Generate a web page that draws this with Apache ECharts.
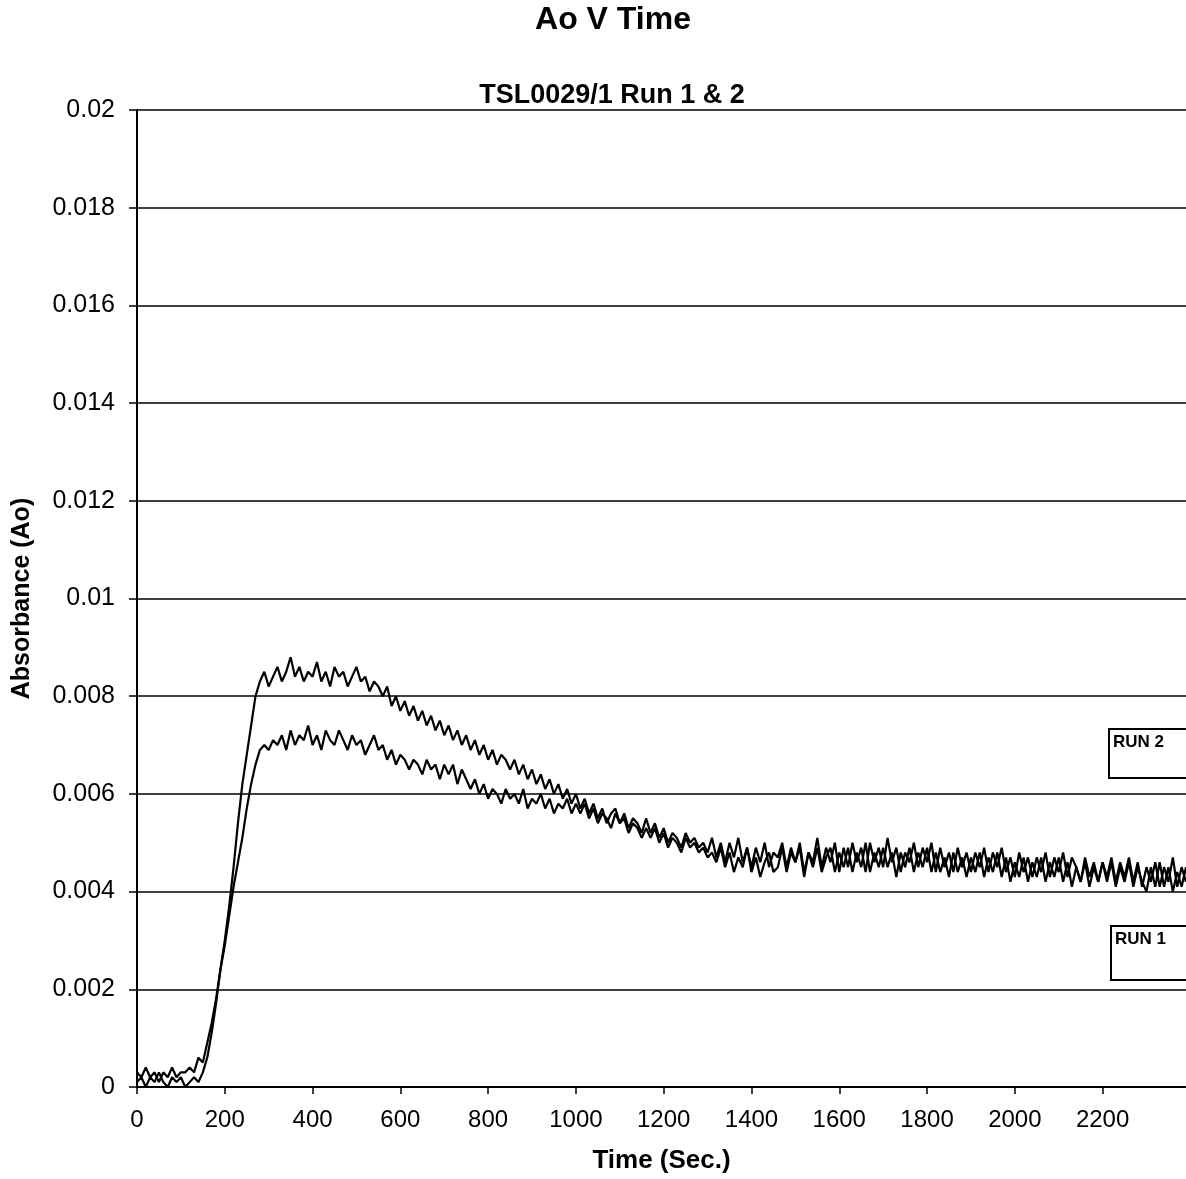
<!DOCTYPE html>
<html>
<head>
<meta charset="utf-8">
<title>Ao V Time</title>
<script src="https://cdn.jsdelivr.net/npm/echarts@6/dist/echarts.min.js"></script>
<style>
html, body { margin: 0; padding: 0; background: #fff; }
#chart { width: 1186px; height: 1179px; }
</style>
</head>
<body>
<div id="chart"></div>
<script>
// sample times (sec.)
var times = [
    0,10,20,30,40,50,60,70,80,90,100,110,120,130,140,150,160,170,180,190,
    200,210,220,230,240,250,260,270,280,290,300,310,320,330,340,350,360,370,380,390,
    400,410,420,430,440,450,460,470,480,490,500,510,520,530,540,550,560,570,580,590,
    600,610,620,630,640,650,660,670,680,690,700,710,720,730,740,750,760,770,780,790,
    800,810,820,830,840,850,860,870,880,890,900,910,920,930,940,950,960,970,980,990,
    1000,1010,1020,1030,1040,1050,1060,1070,1080,1090,1100,1110,1120,1130,1140,1150,1160,1170,1180,1190,
    1200,1210,1220,1230,1240,1250,1260,1270,1280,1290,1300,1310,1320,1330,1340,1350,1360,1370,1380,1390,
    1400,1410,1420,1430,1440,1450,1460,1470,1480,1490,1500,1510,1520,1530,1540,1550,1560,1570,1580,1590,
    1600,1610,1620,1630,1640,1650,1660,1670,1680,1690,1700,1710,1720,1730,1740,1750,1760,1770,1780,1790,
    1800,1810,1820,1830,1840,1850,1860,1870,1880,1890,1900,1910,1920,1930,1940,1950,1960,1970,1980,1990,
    2000,2010,2020,2030,2040,2050,2060,2070,2080,2090,2100,2110,2120,2130,2140,2150,2160,2170,2180,2190,
    2200,2210,2220,2230,2240,2250,2260,2270,2280,2290,2300,2310,2320,2330,2340,2350,2360,2370,2380,2390
];

// Run 2 absorbance (upper curve)
var run2 = [
    0.0003,0.0002,0.0004,0.0002,0.0003,0.0001,0.0003,0.0002,0.0004,0.0002,0.0003,0.0003,
    0.0004,0.0003,0.0006,0.0005,0.0009,0.0013,0.0018,0.0024,0.0030,0.0037,0.0045,0.0054,0.0062,0.0068,0.0074,0.0080,
    0.0083,0.0085,0.0082,0.0084,0.0086,0.0083,0.0085,0.0088,0.0084,0.0086,0.0083,0.0085,0.0084,0.0087,
    0.0083,0.0085,0.0082,0.0086,0.0084,0.0085,0.0082,0.0084,0.0086,0.0083,0.0084,0.0081,0.0083,0.0082,
    0.0080,0.0082,0.0078,0.0080,0.0077,0.0079,0.0076,0.0078,0.0075,0.0077,0.0074,0.0076,0.0073,0.0075,0.0072,
    0.0074,0.0071,0.0073,0.0070,0.0072,0.0069,0.0071,0.0068,0.0070,0.0067,0.0069,0.0066,0.0068,0.0067,0.0065,
    0.0067,0.0064,0.0066,0.0063,0.0065,0.0062,0.0064,0.0061,0.0063,0.0060,0.0062,0.0059,0.0061,0.0058,0.0060,
    0.0057,0.0059,0.0056,0.0058,0.0055,0.0057,0.0054,0.0056,0.0057,0.0054,0.0056,0.0053,0.0055,0.0054,0.0052,
    0.0055,0.0052,0.0054,0.0051,0.0053,0.0050,0.0052,0.0051,0.0049,0.0052,0.0050,0.0051,0.0049,0.0050,0.0048,
    0.0051,0.0047,0.0050,0.0046,0.0050,0.0047,0.0051,0.0046,0.0049,0.0045,0.0049,0.0046,0.0050,0.0045,0.0048,
    0.0047,0.0050,0.0045,0.0049,0.0046,0.0050,0.0044,0.0048,0.0046,0.0051,0.0045,0.0049,0.0046,0.0050,0.0044,
    0.0049,0.0045,0.0050,0.0046,0.0049,0.0044,0.0050,0.0046,0.0049,0.0045,0.0051,0.0046,0.0049,0.0044,0.0048,
    0.0046,0.0050,0.0045,0.0049,0.0046,0.0050,0.0044,0.0049,0.0045,0.0048,0.0044,0.0049,0.0045,0.0048,0.0044,
    0.0048,0.0045,0.0049,0.0044,0.0048,0.0045,0.0049,0.0044,0.0047,0.0043,0.0048,0.0044,0.0047,0.0043,0.0047,
    0.0044,0.0048,0.0043,0.0047,0.0044,0.0048,0.0043,0.0047,0.0045,0.0042,0.0047,0.0043,0.0046,0.0042,0.0046,
    0.0043,0.0047,0.0042,0.0046,0.0043,0.0047,0.0042,0.0046,0.0041,0.0045,0.0042,0.0046,0.0041,0.0045,0.0042,0.0047,0.0041,0.0045,0.0042
];

// Run 1 absorbance (lower curve)
var run1 = [
    0.0001,0.0002,0.0000,0.0002,0.0001,0.0003,0.0001,0.0000,0.0002,0.0001,0.0002,0.0000,
    0.0001,0.0002,0.0001,0.0003,0.0006,0.0011,0.0017,0.0024,0.0029,0.0035,0.0041,0.0046,0.0051,0.0057,0.0062,0.0066,
    0.0069,0.0070,0.0069,0.0071,0.0070,0.0072,0.0069,0.0073,0.0070,0.0072,0.0071,0.0074,0.0070,0.0072,
    0.0069,0.0073,0.0071,0.0070,0.0073,0.0071,0.0069,0.0072,0.0070,0.0071,0.0068,0.0070,0.0072,0.0069,
    0.0070,0.0067,0.0069,0.0066,0.0068,0.0067,0.0065,0.0067,0.0066,0.0064,0.0067,0.0065,0.0066,0.0063,0.0066,
    0.0064,0.0066,0.0062,0.0065,0.0063,0.0061,0.0063,0.0060,0.0062,0.0059,0.0061,0.0060,0.0058,0.0061,0.0059,
    0.0060,0.0058,0.0061,0.0057,0.0059,0.0058,0.0060,0.0057,0.0059,0.0056,0.0058,0.0057,0.0059,0.0056,0.0058,
    0.0056,0.0058,0.0055,0.0057,0.0054,0.0056,0.0055,0.0053,0.0056,0.0054,0.0055,0.0052,0.0054,0.0053,0.0051,
    0.0053,0.0051,0.0053,0.0050,0.0052,0.0049,0.0051,0.0050,0.0048,0.0051,0.0049,0.0050,0.0048,0.0049,0.0047,
    0.0048,0.0046,0.0049,0.0045,0.0048,0.0044,0.0047,0.0045,0.0049,0.0044,0.0047,0.0043,0.0046,0.0048,0.0044,
    0.0045,0.0049,0.0044,0.0048,0.0046,0.0049,0.0043,0.0048,0.0045,0.0049,0.0044,0.0047,0.0049,0.0044,0.0048,
    0.0045,0.0049,0.0044,0.0048,0.0045,0.0050,0.0044,0.0048,0.0045,0.0049,0.0045,0.0048,0.0043,0.0048,0.0045,
    0.0049,0.0044,0.0048,0.0045,0.0049,0.0044,0.0048,0.0044,0.0047,0.0043,0.0048,0.0044,0.0047,0.0043,0.0047,
    0.0044,0.0048,0.0043,0.0047,0.0044,0.0048,0.0043,0.0047,0.0042,0.0046,0.0043,0.0047,0.0042,0.0046,0.0043,
    0.0047,0.0042,0.0046,0.0043,0.0047,0.0042,0.0046,0.0041,0.0045,0.0042,0.0046,0.0041,0.0045,0.0042,0.0046,
    0.0042,0.0046,0.0041,0.0045,0.0042,0.0046,0.0041,0.0045,0.0042,0.0040,0.0045,0.0041,0.0046,0.0041,0.0045,0.0040,0.0044,0.0041,0.0045
];

var runNames = ['RUN 2', 'RUN 1'];

var font = 'Arial, "Liberation Sans", sans-serif';

function pairs(vals) {
    return times.map(function (t, i) { return [t, vals[i]]; });
}

var myChart = echarts.init(document.getElementById('chart'), null, { renderer: 'canvas' });

var option = {
    backgroundColor: '#fff',
    animation: false,
    title: [
        {
            text: 'Ao V Time',
            left: 613, top: 4, textAlign: 'center', padding: 0,
            textStyle: { fontFamily: font, fontSize: 32, fontWeight: 'bold', color: '#000' }
        },
        {
            text: 'TSL0029/1 Run 1 & 2',
            left: 612, top: 82, textAlign: 'center', padding: 0,
            textStyle: { fontFamily: font, fontSize: 27, fontWeight: 'bold', color: '#000' }
        }
    ],
    grid: { left: 137, right: 0, top: 110, bottom: 92, containLabel: false },
    xAxis: {
        type: 'value',
        min: 0, max: 2390, interval: 200,
        name: 'Time (Sec.)',
        nameLocation: 'middle',
        nameGap: 61,
        nameTextStyle: { fontFamily: font, fontSize: 26, fontWeight: 'bold', color: '#000' },
        axisLine: { show: true, onZero: false, lineStyle: { color: '#000', width: 2 } },
        axisTick: { show: true, inside: false, length: 7, lineStyle: { color: '#000', width: 1.5 } },
        axisLabel: {
            margin: 21, showMaxLabel: false, fontFamily: font, fontSize: 24, color: '#000',
            formatter: function (v) { return String(v); }
        },
        splitLine: { show: false }
    },
    yAxis: {
        type: 'value',
        min: 0, max: 0.02, interval: 0.002,
        name: 'Absorbance (Ao)',
        nameLocation: 'middle',
        nameGap: 102,
        nameTextStyle: { fontFamily: font, fontSize: 25, fontWeight: 'bold', color: '#000' },
        axisLine: { show: true, lineStyle: { color: '#000', width: 2 } },
        axisTick: { show: true, inside: false, length: 8, lineStyle: { color: '#000', width: 1.5 } },
        axisLabel: { margin: 22, fontFamily: font, fontSize: 25, color: '#000' },
        splitLine: { show: true, lineStyle: { color: '#000', width: 1.5 } }
    },
    series: [
        {
            name: runNames[0],
            type: 'line',
            data: pairs(run2),
            showSymbol: false,
            lineStyle: { color: '#000', width: 2.2 }
        },
        {
            name: runNames[1],
            type: 'line',
            data: pairs(run1),
            showSymbol: false,
            lineStyle: { color: '#000', width: 2.2 }
        }
    ],
    // RUN labels in boxes at the right edge
    graphic: [
        {
            type: 'rect', shape: { x: 1109, y: 729, width: 80, height: 49 },
            style: { fill: '#fff', stroke: '#000', lineWidth: 2 }
        },
        {
            type: 'text', x: 1113, y: 734,
            style: { text: runNames[0], fontFamily: font, fontSize: 17, fontWeight: 'bold', fill: '#000' }
        },
        {
            type: 'rect', shape: { x: 1111, y: 926, width: 80, height: 54 },
            style: { fill: '#fff', stroke: '#000', lineWidth: 2 }
        },
        {
            type: 'text', x: 1115, y: 931,
            style: { text: runNames[1], fontFamily: font, fontSize: 17, fontWeight: 'bold', fill: '#000' }
        }
    ]
};

myChart.setOption(option);
</script>
</body>
</html>
